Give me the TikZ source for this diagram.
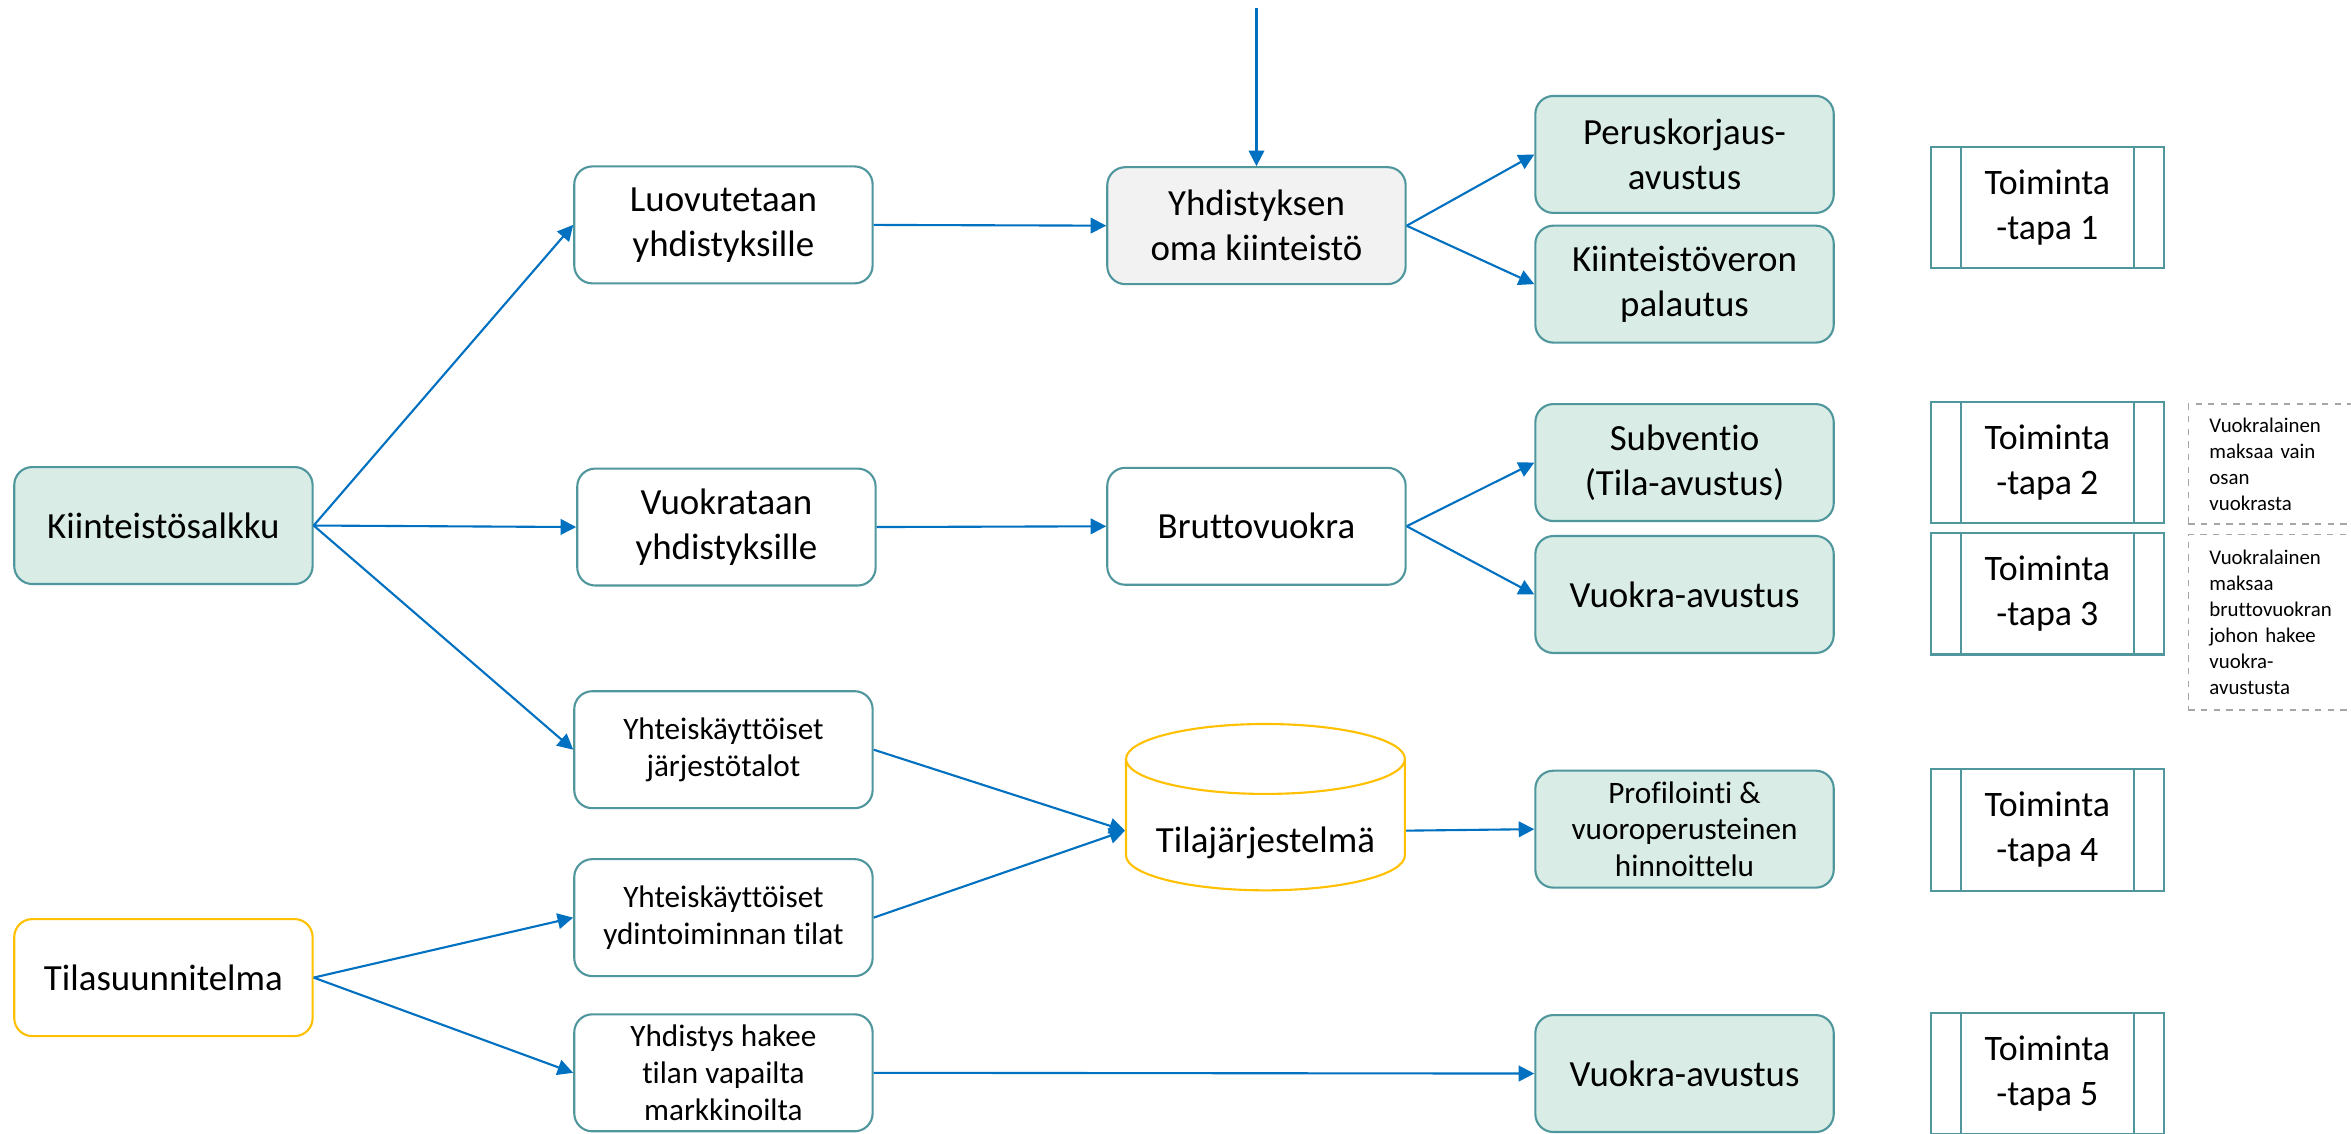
\documentclass[tikz,border=0pt]{standalone}
\usepackage{fontspec}
\setmainfont{Carlito}[Ligatures=NoCommon]
\usepackage{tikz}
\usetikzlibrary{arrows.meta,shapes.geometric,positioning}
\definecolor{reuna}{RGB}{80,150,157}
\definecolor{vihrea}{RGB}{217,237,230}
\definecolor{harmaa}{RGB}{242,242,242}
\definecolor{keltainen}{RGB}{255,192,0}
\definecolor{sininen}{RGB}{0,112,192}
\definecolor{katko}{RGB}{166,166,166}

\begin{document}
\begin{tikzpicture}[x=0.25mm, y=-0.25mm,
        laatikko/.style={draw=reuna, line width=1pt, rounded corners=3mm, fill=white,
            minimum width=49.75mm, minimum height=19.5mm, align=center,
            font=\fontsize{17.5}{21.3}\selectfont},
        pieni/.style={font=\fontsize{14.8}{17.4}\selectfont},
        tuki/.style={laatikko, fill=vihrea},
        tapa/.style={draw=reuna, line width=1pt, fill=white, minimum width=38.75mm,
            minimum height=20.25mm, align=center, font=\fontsize{17}{21.3}\selectfont,
            path picture={\draw[reuna, line width=1pt]
                ([xshift=4.9mm]path picture bounding box.north west) -- ([xshift=4.9mm]path picture bounding box.south west)
                ([xshift=-4.9mm]path picture bounding box.north east) -- ([xshift=-4.9mm]path picture bounding box.south east);}},
        kanta/.style={cylinder, shape border rotate=90, aspect=0.3, draw=keltainen, line width=1pt,
            fill=white, minimum width=46.5mm, minimum height=23mm,
            font=\fontsize{17.5}{21.3}\selectfont},
        huom/.style={draw=katko, dashed, line width=0.8pt, text width=40mm, align=left,
            inner xsep=3.5mm, font=\fontsize{9.9}{12.3}\selectfont},
        nuoli/.style={draw=sininen, line width=1pt, -{Triangle[length=2.6mm,width=2.6mm]}}]
        \clip (0,0) rectangle (1568,756);

        % Lahtotilanne
        \node[tuki] (salkku) at (109,350.5) {Kiinteistösalkku};
        \node[laatikko, draw=keltainen] (suunn) at (109,652) {Tilasuunnitelma};

        % Toinen sarake
        \node[laatikko] (luov) at (482.5,150) {Luovutetaan\\yhdistyksille};
        \node[laatikko] (vuokr) at (484.5,351.5) {Vuokrataan\\yhdistyksille};
        \node[laatikko, pieni] (talot) at (482.5,500) {Yhteiskäyttöiset\\järjestötalot};
        \node[laatikko, pieni] (ydin) at (482.5,612) {Yhteiskäyttöiset\\ydintoiminnan tilat};
        \node[laatikko, pieni] (hakee) at (482.5,715.5) {Yhdistys hakee\\tilan vapailta\\markkinoilta};

        % Kolmas sarake
        \node[laatikko, fill=harmaa] (oma) at (838,150.5) {Yhdistyksen\\oma kiinteistö};
        \node[laatikko] (brutto) at (838,351) {Bruttovuokra};
        \node[kanta] (tilaj) at (844,554) {\rule{0pt}{8.5mm}Tilajärjestelmä};
        \coordinate (yla) at (838,5);

        % Tukimuodot
        \node[tuki] (perus) at (1123.5,103) {Peruskorjaus-\\avustus};
        \node[tuki] (kvero) at (1123.5,189.5) {Kiinteistöveron\\palautus};
        \node[tuki] (subv) at (1123.5,308.5) {Subventio\\(Tila-avustus)};
        \node[tuki] (vavust) at (1123.5,396.5) {Vuokra-avustus};
        \node[tuki, pieni] (profil) at (1123.5,553) {Profilointi \&\\vuoroperusteinen\\hinnoittelu};
        \node[tuki] (vavust2) at (1123.5,716) {Vuokra-avustus};

        % Toimintatavat
        \node[tapa] (tapa1) at (1365.5,138.5) {Toiminta\\-tapa 1};
        \node[tapa] (tapa2) at (1365.5,308.5) {Toiminta\\-tapa 2};
        \node[tapa] (tapa3) at (1365.5,396) {Toiminta\\-tapa 3};
        \node[tapa] (tapa4) at (1365.5,553.5) {Toiminta\\-tapa 4};
        \node[tapa] (tapa5) at (1365.5,716) {Toiminta\\-tapa 5};

        % Huomautukset
        \node[huom, anchor=north west, minimum height=20mm] (huom1) at (1459,269)
            {Vuokralainen\\maksaa vain\\osan\\vuokrasta};
        \node[huom, anchor=north west, minimum height=29.25mm] (huom2) at (1459,356)
            {Vuokralainen\\maksaa\\bruttovuokran\\johon hakee\\vuokra-\\avustusta};

        % Nuolet
        \draw[nuoli] (salkku.east) -- (luov.west);
        \draw[nuoli] (salkku.east) -- (vuokr.west);
        \draw[nuoli] (salkku.east) -- (talot.west);
        \draw[nuoli] (suunn.east) -- (ydin.west);
        \draw[nuoli] (suunn.east) -- (hakee.west);
        \draw[nuoli] (luov.east) -- (oma.west);
        \draw[nuoli] (yla) -- (oma.north);
        \draw[nuoli] (oma.east) -- (perus.west);
        \draw[nuoli] (oma.east) -- (kvero.west);
        \draw[nuoli] (vuokr.east) -- (brutto.west);
        \draw[nuoli] (brutto.east) -- (subv.west);
        \draw[nuoli] (brutto.east) -- (vavust.west);
        \draw[nuoli] (talot.east) -- (tilaj.west);
        \draw[nuoli] (ydin.east) -- (tilaj.west);
        \draw[nuoli] (tilaj.east) -- (profil.west);
        \draw[nuoli] (hakee.east) -- (vavust2.west);
    \end{tikzpicture}
\end{document}
